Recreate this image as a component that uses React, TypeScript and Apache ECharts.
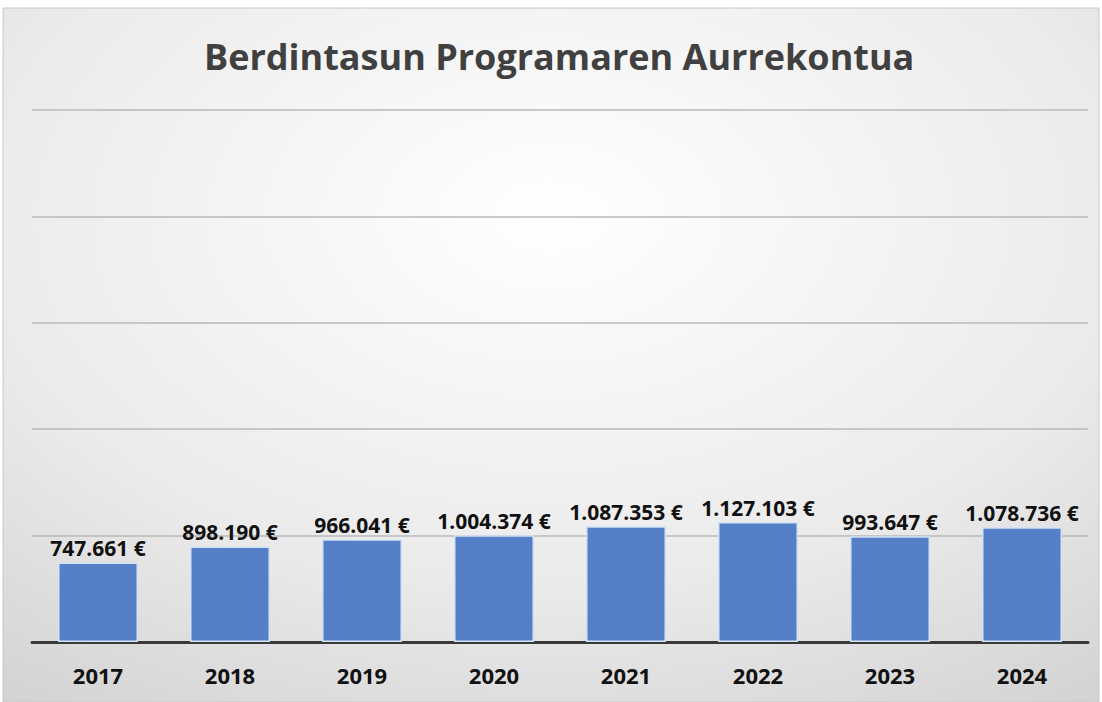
import React, { useEffect, useRef } from "react";
import * as echarts from "echarts";

const title = "Berdintasun Programaren Aurrekontua";
const years = ["2017", "2018", "2019", "2020", "2021", "2022", "2023", "2024"];
const budget = [747661, 898190, 966041, 1004374, 1087353, 1127103, 993647, 1078736];
const yMax = 5000000;
const yInterval = 1000000;

function fmt(v: number): string {
  const s = Math.round(v).toString();
  return s.replace(/\B(?=(\d{3})+(?!\d))/g, ".") + " €";
}

export default function App() {
  const ref = useRef<HTMLDivElement>(null);
  useEffect(() => {
    if (!ref.current) return;
    const chart = echarts.init(ref.current, undefined, { renderer: "svg" });
    const font = "'Open Sans', 'Noto Sans', sans-serif";
    chart.setOption({
      animation: false,
      backgroundColor: "#ffffff",
      graphic: [
        {
          type: "rect",
          z: -10,
          silent: true,
          shape: { x: 3, y: 8, width: 1096, height: 694 },
          style: {
            fill: new echarts.graphic.RadialGradient(0.5, 0.3, 0.95, [
              { offset: 0, color: "#ffffff" },
              { offset: 0.55, color: "#ebebeb" },
              { offset: 1, color: "#cccccc" },
            ]),
            stroke: "#c8c8c8",
            lineWidth: 1,
          },
        },
      ],
      title: {
        text: title,
        left: 199,
        top: 33,
        textStyle: {
          fontFamily: font,
          fontWeight: "bold",
          fontSize: 36,
          color: "#404040",
        },
      },
      grid: { left: 32, right: 14, top: 110, bottom: 60, containLabel: false },
      xAxis: {
        type: "category",
        data: years,
        axisLine: { show: true, lineStyle: { color: "#3a3a3a", width: 3 } },
        axisTick: { show: false },
        axisLabel: {
          fontFamily: font,
          fontWeight: "bold",
          fontSize: 22,
          color: "#111111",
          margin: 22,
        },
      },
      yAxis: {
        type: "value",
        min: 0,
        max: yMax,
        interval: yInterval,
        axisLabel: { show: false },
        axisLine: { show: false },
        axisTick: { show: false },
        splitLine: { lineStyle: { color: "#b8b8b8", width: 1.5 } },
      },
      series: [
        {
          type: "bar",
          data: budget,
          barWidth: 80,
          itemStyle: { color: "#5580c8", borderColor: "#d4e2f5", borderWidth: 1.5 },
          label: {
            show: true,
            position: "top",
            distance: 4,
            formatter: (p: any) => fmt(p.value),
            fontFamily: font,
            fontWeight: "bold",
            fontSize: 21,
            color: "#111111",
          },
        },
      ],
    });
    return () => chart.dispose();
  }, []);
  return (
    <div
      ref={ref}
      style={{ position: "fixed", left: 0, top: 0, width: 1102, height: 702 }}
    />
  );
}
